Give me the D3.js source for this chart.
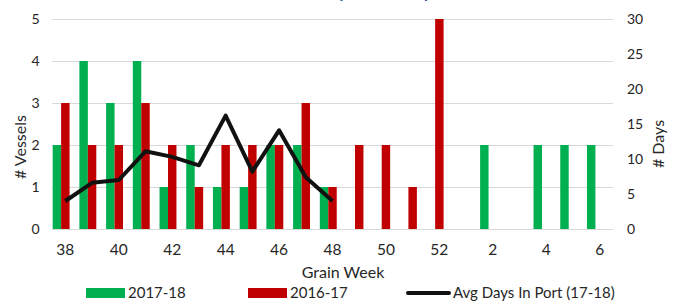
<!DOCTYPE html>
<html>
<head>
<meta charset="utf-8">
<script src="https://cdn.jsdelivr.net/npm/d3@7"></script>
<style>
  body { margin: 0; background: #fff; }
  svg text { font-family: Lato, "Open Sans", sans-serif; fill: #262626; }
</style>
</head>
<body>
<div class="chart"></div>
<script>
// Grain week vessel counts and average days in port

var weeks = ['38','39','40','41','42','43','44','45','46','47','48','49','50','51','52','1','2','3','4','5','6'];
var vessels1718 = [2,4,3,4,1,2,1,1,2,2,1,0,0,0,0,0,2,0,2,2,2];
var vessels1617 = [3,2,2,3,2,1,2,2,2,3,1,2,2,1,5,0,0,0,0,0,0];
var avgDays = [4,6.6,7,11.1,10.3,9.1,16.2,8.2,14.1,7.4,4];
var leftTicks = [0,1,2,3,4,5];
var rightTicks = [0,5,10,15,20,25,30];

var width = 678, height = 304;
var plotLeft = 52, plotRight = 613, plotTop = 19, plotBottom = 229;

var svg = d3.select('.chart').append('svg')
  .attr('width', width)
  .attr('height', height);

var xScale = d3.scaleBand()
  .domain(weeks)
  .range([plotLeft, plotRight]);

// three slots per week, the third is empty
var xInner = d3.scaleBand()
  .domain(['a', 'b', 'c'])
  .range([0, xScale.bandwidth()])
  .paddingOuter(0.08);

var yLeft = d3.scaleLinear().domain([0, 5]).range([plotBottom, plotTop]);
var yRight = d3.scaleLinear().domain([0, 30]).range([plotBottom, plotTop]);

// gridlines
svg.selectAll('line.grid')
  .data(leftTicks)
  .enter()
  .append('line')
    .attr('class', 'grid')
    .attr('x1', plotLeft)
    .attr('x2', plotRight)
    .attr('y1', function(d) { return Math.round(yLeft(d)) + 0.5; })
    .attr('y2', function(d) { return Math.round(yLeft(d)) + 0.5; })
    .attr('stroke', '#d9d9d9')
    .attr('stroke-width', 1);

// bars
var drawBars = function(data, slot, color) {
  svg.append('g').selectAll('rect')
    .data(data)
    .enter()
    .append('rect')
      .attr('x', function(d, i) { return xScale(weeks[i]) + xInner(slot); })
      .attr('y', function(d) { return yLeft(d); })
      .attr('width', xInner.bandwidth())
      .attr('height', function(d) { return plotBottom - yLeft(d); })
      .attr('fill', color);
};
drawBars(vessels1718, 'a', '#00b050');
drawBars(vessels1617, 'b', '#c00000');

// line for avg days
var line = d3.line()
  .x(function(d, i) { return xScale(weeks[i]) + xScale.bandwidth() / 2; })
  .y(function(d) { return yRight(d); });

svg.append('path')
  .datum(avgDays)
  .attr('d', line)
  .attr('fill', 'none')
  .attr('stroke', '#111')
  .attr('stroke-width', 4)
  .attr('stroke-linejoin', 'round');

// left axis labels
svg.selectAll('text.yl')
  .data(leftTicks)
  .enter()
  .append('text')
    .attr('class', 'yl')
    .attr('x', 39.5)
    .attr('y', function(d) { return yLeft(d); })
    .attr('dy', '0.35em')
    .attr('text-anchor', 'end')
    .attr('font-size', 14)
    .text(function(d) { return d; });

// right axis labels
svg.selectAll('text.yr')
  .data(rightTicks)
  .enter()
  .append('text')
    .attr('class', 'yr')
    .attr('x', 627)
    .attr('y', function(d) { return yRight(d); })
    .attr('dy', '0.35em')
    .attr('font-size', 14)
    .text(function(d) { return d; });

// x labels, every other week
svg.selectAll('text.xl')
  .data(weeks.filter(function(d, i) { return i % 2 === 0; }))
  .enter()
  .append('text')
    .attr('class', 'xl')
    .attr('x', function(d) { return xScale(d) + xScale.bandwidth() / 2; })
    .attr('y', 250)
    .attr('dy', '0.35em')
    .attr('text-anchor', 'middle')
    .attr('font-size', 15.5)
    .text(function(d) { return d; });

// axis titles
svg.append('text')
  .attr('x', 343)
  .attr('y', 272)
  .attr('dy', '0.35em')
  .attr('text-anchor', 'middle')
  .attr('font-size', 16)
  .text('Grain Week');

svg.append('text')
  .attr('transform', 'translate(20,147) rotate(-90)')
  .attr('dy', '0.35em')
  .attr('text-anchor', 'middle')
  .attr('font-size', 16)
  .text('# Vessels');

svg.append('text')
  .attr('transform', 'translate(658,144) rotate(-90)')
  .attr('dy', '0.35em')
  .attr('text-anchor', 'middle')
  .attr('font-size', 16)
  .text('# Days');

// title, mostly off the top edge
svg.append('text')
  .attr('x', 350)
  .attr('y', -2)
  .attr('text-anchor', 'middle')
  .attr('font-size', 17)
  .attr('font-weight', 'bold')
  .style('fill', '#2f5597')
  .text('Grain Vessel Days in Port by Week');

// legend
var legendItems = [
  { label: '2017-18', color: '#00b050', type: 'bar', x: 86 },
  { label: '2016-17', color: '#c00000', type: 'bar', x: 248 },
  { label: 'Avg Days In Port (17-18)', color: '#111', type: 'line', x: 408 }
];

var legend = svg.selectAll('g.legend')
  .data(legendItems)
  .enter()
  .append('g')
    .attr('class', 'legend')
    .attr('transform', function(d) { return 'translate(' + d.x + ',293)'; });

legend.filter(function(d) { return d.type === 'bar'; })
  .append('rect')
    .attr('x', 0)
    .attr('y', -5)
    .attr('width', 39)
    .attr('height', 10)
    .attr('fill', function(d) { return d.color; });

legend.filter(function(d) { return d.type === 'line'; })
  .append('line')
    .attr('x1', 0)
    .attr('x2', 41)
    .attr('y1', 0)
    .attr('y2', 0)
    .attr('stroke', function(d) { return d.color; })
    .attr('stroke-width', 4)
    .attr('stroke-linecap', 'round');

legend.append('text')
  .attr('x', function(d) { return d.type === 'line' ? 45 : 42; })
  .attr('y', 0)
  .attr('dy', '0.35em')
  .attr('font-size', 15)
  .text(function(d) { return d.label; });
</script>
</body>
</html>
